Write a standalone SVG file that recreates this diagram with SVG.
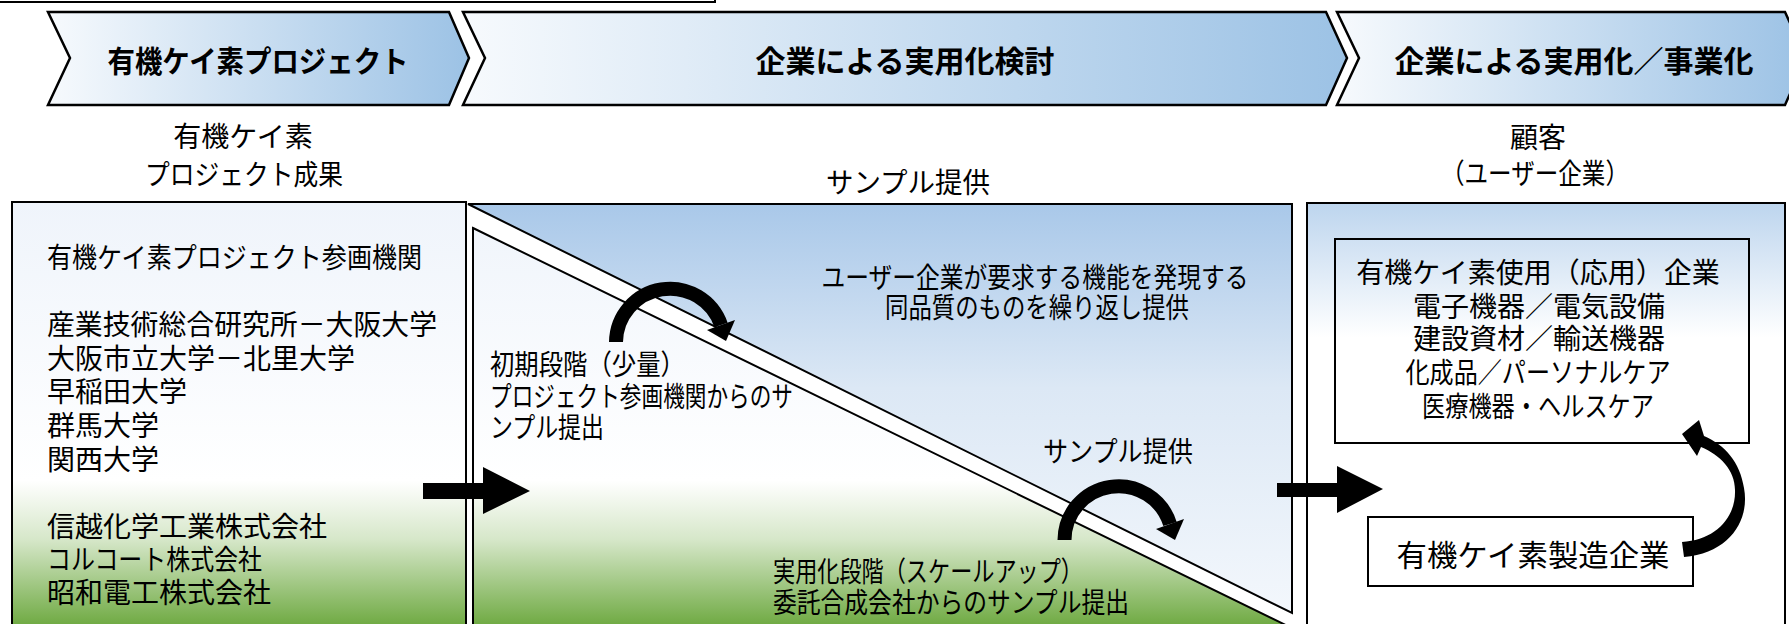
<svg xmlns="http://www.w3.org/2000/svg" width="1789" height="624" viewBox="0 0 1789 624">
<defs>
  <linearGradient id="chev" x1="0" y1="0" x2="1" y2="0">
    <stop offset="0" stop-color="#f7fafd"/>
    <stop offset="1" stop-color="#9cc2e5"/>
  </linearGradient>
  <linearGradient id="greenfade" gradientUnits="userSpaceOnUse" x1="0" y1="202" x2="0" y2="624">
    <stop offset="0" stop-color="#eff4fb"/>
    <stop offset="0.66" stop-color="#ffffff"/>
    <stop offset="0.8" stop-color="#d6e7c9"/>
    <stop offset="1" stop-color="#71ab45"/>
  </linearGradient>
  <linearGradient id="bluefade" gradientUnits="userSpaceOnUse" x1="0" y1="204" x2="0" y2="613">
    <stop offset="0" stop-color="#a9c8e9"/>
    <stop offset="0.45" stop-color="#dce8f5"/>
    <stop offset="1" stop-color="#f3f7fc"/>
  </linearGradient>
  <linearGradient id="rightbg" gradientUnits="userSpaceOnUse" x1="0" y1="203" x2="0" y2="624">
    <stop offset="0" stop-color="#bdd5ee"/>
    <stop offset="0.32" stop-color="#ffffff"/>
    <stop offset="1" stop-color="#ffffff"/>
  </linearGradient>
  <style>
    .t{font-family:"Liberation Sans","Noto Sans CJK JP",sans-serif;font-size:28px;fill:#000}
    .b{font-weight:700;font-size:30px}
    .c{text-anchor:middle}
    .box{stroke:#000;stroke-width:2}
    .chev{fill:url(#chev);stroke:#000;stroke-width:2.5;stroke-linejoin:miter}
    .blk{fill:#000;stroke:none}
    .arc{fill:none;stroke:#000;stroke-width:14}
  </style>
</defs>
<rect width="1789" height="624" fill="#ffffff"/>

<g id="topbox">
  <rect class="box" x="-2" y="-20" width="717" height="22" fill="#ffffff"/>
</g>

<g id="chevron1">
  <polygon class="chev" points="48,12 449,12 469,58 449,105 48,105 70,58"/>
  <text class="t b c" x="258" y="72" textLength="301" lengthAdjust="spacingAndGlyphs">有機ケイ素プロジェクト</text>
</g>
<g id="chevron2">
  <polygon class="chev" points="463,12 1326,12 1347,58 1326,105 463,105 485,58"/>
  <text class="t b c" x="905" y="72">企業による実用化検討</text>
</g>
<g id="chevron3">
  <polygon class="chev" points="1337,12 1785,12 1806,58 1785,105 1337,105 1359,58"/>
  <text class="t b c" x="1574" y="72">企業による実用化／事業化</text>
</g>

<g id="label-results">
  <text class="t c" x="243" y="147">有機ケイ素</text>
  <text class="t c" x="244" y="185" textLength="198" lengthAdjust="spacingAndGlyphs">プロジェクト成果</text>
</g>
<g id="label-sample">
  <text class="t c" x="908" y="193" textLength="164" lengthAdjust="spacingAndGlyphs">サンプル提供</text>
</g>
<g id="label-customer">
  <text class="t c" x="1538" y="148">顧客</text>
  <text class="t c" x="1535" y="184" textLength="188" lengthAdjust="spacingAndGlyphs">（ユーザー企業）</text>
</g>

<g id="left-box">
  <rect class="box" x="12" y="202" width="454" height="440" fill="url(#greenfade)"/>
  <text class="t" x="47" y="268" textLength="375" lengthAdjust="spacingAndGlyphs">有機ケイ素プロジェクト参画機関</text>
  <text class="t" x="47" y="335" textLength="390" lengthAdjust="spacingAndGlyphs">産業技術総合研究所－大阪大学</text>
  <text class="t" x="47" y="369">大阪市立大学－北里大学</text>
  <text class="t" x="47" y="402">早稲田大学</text>
  <text class="t" x="47" y="436">群馬大学</text>
  <text class="t" x="47" y="470">関西大学</text>
  <text class="t" x="47" y="537">信越化学工業株式会社</text>
  <text class="t" x="47" y="570" textLength="215" lengthAdjust="spacingAndGlyphs">コルコート株式会社</text>
  <text class="t" x="47" y="603">昭和電工株式会社</text>
</g>

<g id="middle-box">
  <polygon class="box" points="468,204 1292,204 1292,613" fill="url(#bluefade)"/>
  <polygon class="box" points="473,228 1302,633 473,633" fill="url(#greenfade)"/>
  <text class="t c" x="1035" y="288" textLength="427" lengthAdjust="spacingAndGlyphs">ユーザー企業が要求する機能を発現する</text>
  <text class="t c" x="1037" y="318" textLength="304" lengthAdjust="spacingAndGlyphs">同品質のものを繰り返し提供</text>
  <text class="t" x="490" y="375" textLength="195" lengthAdjust="spacingAndGlyphs">初期段階（少量）</text>
  <text class="t" x="490" y="407" textLength="303" lengthAdjust="spacingAndGlyphs">プロジェクト参画機関からのサ</text>
  <text class="t" x="490" y="438" textLength="114" lengthAdjust="spacingAndGlyphs">ンプル提出</text>
  <text class="t c" x="1118" y="462" textLength="150" lengthAdjust="spacingAndGlyphs">サンプル提供</text>
  <text class="t" x="773" y="582" textLength="310" lengthAdjust="spacingAndGlyphs">実用化段階（スケールアップ）</text>
  <text class="t" x="773" y="613" textLength="356" lengthAdjust="spacingAndGlyphs">委託合成会社からのサンプル提出</text>
</g>

<g id="right-box">
  <rect class="box" x="1307" y="203" width="478" height="440" fill="url(#rightbg)"/>
</g>
<g id="user-companies">
  <rect class="box" x="1335" y="239" width="414" height="204" fill="none"/>
  <text class="t c" x="1538" y="283">有機ケイ素使用（応用）企業</text>
  <text class="t c" x="1539" y="317">電子機器／電気設備</text>
  <text class="t c" x="1539" y="349">建設資材／輸送機器</text>
  <text class="t c" x="1538" y="383" textLength="265" lengthAdjust="spacingAndGlyphs">化成品／パーソナルケア</text>
  <text class="t c" x="1538" y="417" textLength="232" lengthAdjust="spacingAndGlyphs">医療機器・ヘルスケア</text>
</g>
<g id="maker">
  <rect class="box" x="1368" y="517" width="325" height="69" fill="#ffffff"/>
  <text class="t c" x="1533" y="566" style="font-size:30px" textLength="273" lengthAdjust="spacingAndGlyphs">有機ケイ素製造企業</text>
</g>

<g id="connectors">
  <polygon class="blk" points="423,483 483,483 483,467 530,491 483,514 483,499 423,499"/>
  <polygon class="blk" points="1277,483 1337,483 1337,466 1383,489 1337,513 1337,497 1277,497"/>
  <path class="arc" d="M 616 342 A 54 54 0 0 1 721 325"/>
  <polygon class="blk" points="735,320 707,330 726,341"/>
  <path class="arc" d="M 1064.5 540 A 54 54 0 0 1 1170 524"/>
  <polygon class="blk" points="1184,519 1156,529 1175,540"/>
  <path class="blk" d="M 1684 557 C 1730 553 1750 520 1744 488 C 1740 462 1725 445 1704 436 L 1699 420 L 1682 434 L 1697 456 L 1701 447 C 1720 455 1735 470 1735 490 C 1736 518 1715 540 1682 542 Z"/>
</g>
</svg>
